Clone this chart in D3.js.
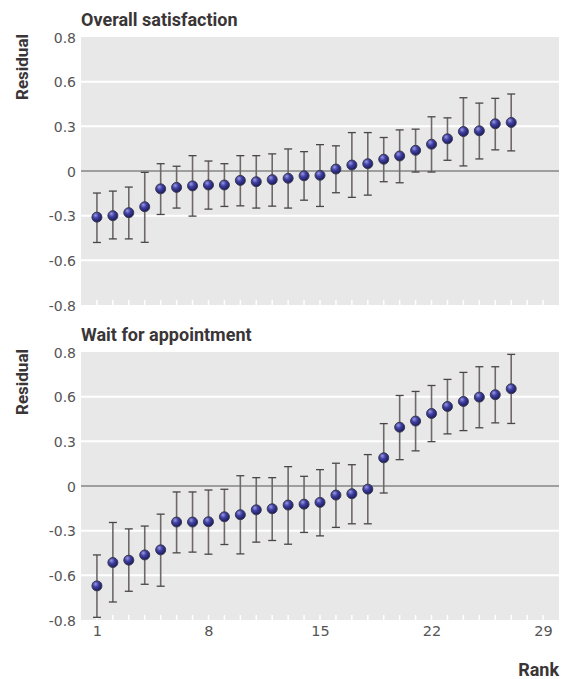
<!DOCTYPE html>
<html>
<head>
<meta charset="utf-8">
<script src="https://cdn.jsdelivr.net/npm/d3@7/dist/d3.min.js"></script>
<style>
  html, body { margin: 0; padding: 0; background: #fff; }
  svg { display: block; }
</style>
</head>
<body>
<svg id="chart" width="571" height="679"></svg>
<script>
// ---- Data ----
const ranks = d3.range(1, 28);
const panelTitles = ["Overall satisfaction", "Wait for appointment"];

const satEst = [-0.31,-0.30,-0.28,-0.24,-0.12,-0.11,-0.10,-0.094,-0.094,-0.063,-0.072,-0.058,-0.049,-0.032,-0.029,0.013,0.040,0.049,0.079,0.101,0.139,0.180,0.216,0.265,0.270,0.317,0.326];
const satLow = [-0.48,-0.456,-0.456,-0.479,-0.292,-0.249,-0.303,-0.256,-0.238,-0.234,-0.249,-0.236,-0.249,-0.196,-0.238,-0.146,-0.177,-0.162,-0.072,-0.079,-0.007,-0.007,0.072,0.034,0.081,0.142,0.135];
const satHigh = [-0.148,-0.135,-0.108,-0.009,0.049,0.032,0.103,0.067,0.049,0.103,0.103,0.115,0.148,0.13,0.177,0.169,0.258,0.258,0.225,0.276,0.281,0.364,0.357,0.492,0.456,0.488,0.517];

const waitEst = [-0.671,-0.514,-0.498,-0.463,-0.429,-0.242,-0.242,-0.240,-0.207,-0.193,-0.160,-0.153,-0.128,-0.122,-0.110,-0.061,-0.052,-0.021,0.189,0.395,0.436,0.487,0.534,0.568,0.597,0.613,0.653];
const waitLow = [-0.882,-0.779,-0.707,-0.660,-0.673,-0.449,-0.444,-0.458,-0.393,-0.456,-0.377,-0.366,-0.391,-0.312,-0.335,-0.278,-0.254,-0.254,-0.047,0.177,0.236,0.298,0.350,0.372,0.391,0.424,0.420];
const waitHigh = [-0.463,-0.245,-0.288,-0.269,-0.189,-0.040,-0.040,-0.027,-0.022,0.069,0.056,0.056,0.130,0.065,0.110,0.153,0.143,0.211,0.419,0.608,0.635,0.675,0.716,0.763,0.801,0.801,0.884];

const yTickValues = [-0.9, -0.6, -0.3, 0, 0.3, 0.6, 0.9];
const yTickLabels = ["-0.8", "-0.6", "-0.3", "0", "0.3", "0.6", "0.8"];
const xTickValues = [1, 8, 15, 22, 29];
const xMinorTicks = d3.range(1, 30);

const panels = [
  { title: panelTitles[0], est: satEst, low: satLow, high: satHigh, top: 37 },
  { title: panelTitles[1], est: waitEst, low: waitLow, high: waitHigh, top: 352 }
];

// ---- Layout ----
const svg = d3.select("#chart");
const left = 81, right = 559, plotH = 268;
const x = d3.scaleLinear().domain([0, 30]).range([left, right]);

const defs = svg.append("defs");
const grad = defs.append("radialGradient").attr("id", "ball")
  .attr("cx", "40%").attr("cy", "35%").attr("r", "65%").attr("fx", "35%").attr("fy", "30%");
grad.append("stop").attr("offset", "0%").attr("stop-color", "#9a9ae6");
grad.append("stop").attr("offset", "45%").attr("stop-color", "#3f3fa3");
grad.append("stop").attr("offset", "100%").attr("stop-color", "#1a1a5a");

const numFont = "'DejaVu Sans', sans-serif";
const boldFont = "Roboto, 'Liberation Sans', sans-serif";

panels.forEach((p, pi) => {
  const y = d3.scaleLinear().domain([-0.9, 0.9]).range([p.top + plotH, p.top]);
  const g = svg.append("g");

  g.append("rect").attr("x", left).attr("y", p.top)
    .attr("width", right - left).attr("height", plotH).attr("fill", "#e8e8e8");

  // gridlines
  g.selectAll("line.grid").data(yTickValues.filter(v => Math.abs(v) < 0.8 && v !== 0))
    .join("line").attr("class", "grid")
    .attr("x1", left).attr("x2", right)
    .attr("y1", d => y(d)).attr("y2", d => y(d))
    .attr("stroke", "#fff").attr("stroke-width", 2);

  // minor ticks at bottom
  g.selectAll("line.minor").data(xMinorTicks).join("line").attr("class", "minor")
    .attr("x1", d => x(d)).attr("x2", d => x(d))
    .attr("y1", p.top + plotH).attr("y2", p.top + plotH - 5)
    .attr("stroke", "#fff").attr("stroke-width", 1.5);

  // zero line
  g.append("line").attr("x1", left).attr("x2", right)
    .attr("y1", y(0)).attr("y2", y(0))
    .attr("stroke", "#555").attr("stroke-width", 1);

  // y axis labels
  const yAxis = d3.axisLeft(y).tickValues(yTickValues)
    .tickFormat((d, i) => yTickLabels[i]).tickSize(0).tickPadding(5);
  const ya = g.append("g").attr("transform", `translate(${left},0)`).call(yAxis);
  ya.select(".domain").remove();
  ya.selectAll("text").attr("font-family", numFont).attr("font-size", 14)
    .attr("fill", "#555").attr("dy", "0.36em");

  // title
  g.append("text").attr("x", left).attr("y", p.top - 11)
    .attr("font-family", boldFont).attr("font-weight", 700).attr("font-size", 18)
    .attr("fill", "#3a3536").text(p.title);

  // Residual label
  g.append("text").attr("transform", `translate(28,${p.top + 30}) rotate(-90)`)
    .attr("text-anchor", "middle")
    .attr("font-family", boldFont).attr("font-weight", 700).attr("font-size", 17)
    .attr("fill", "#3a3536").text("Residual");

  // error bars
  const eb = g.selectAll("g.eb").data(ranks).join("g").attr("class", "eb");
  eb.append("line")
    .attr("x1", d => x(d)).attr("x2", d => x(d))
    .attr("y1", (d, i) => y(p.low[i])).attr("y2", (d, i) => y(p.high[i]))
    .attr("stroke", "#6e6869").attr("stroke-width", 1.6);
  eb.append("line")
    .attr("x1", d => x(d) - 4).attr("x2", d => x(d) + 4)
    .attr("y1", (d, i) => y(p.low[i])).attr("y2", (d, i) => y(p.low[i]))
    .attr("stroke", "#4a4546").attr("stroke-width", 1.3);
  eb.append("line")
    .attr("x1", d => x(d) - 4).attr("x2", d => x(d) + 4)
    .attr("y1", (d, i) => y(p.high[i])).attr("y2", (d, i) => y(p.high[i]))
    .attr("stroke", "#4a4546").attr("stroke-width", 1.3);

  // points
  g.selectAll("circle.pt").data(ranks).join("circle").attr("class", "pt")
    .attr("cx", d => x(d)).attr("cy", (d, i) => y(p.est[i]))
    .attr("r", 5).attr("fill", "url(#ball)")
    .attr("stroke", "#3b3b4e").attr("stroke-width", 1);

  // x axis on bottom panel
  if (pi === 1) {
    const xAxis = d3.axisBottom(x).tickValues(xTickValues).tickSize(0).tickPadding(6);
    const xa = g.append("g").attr("transform", `translate(0,${p.top + plotH})`).call(xAxis);
    xa.select(".domain").remove();
    xa.selectAll("text").attr("font-family", numFont).attr("font-size", 14.5).attr("fill", "#555");
  }
});

svg.append("text").attr("x", right).attr("y", 676).attr("text-anchor", "end")
  .attr("font-family", boldFont).attr("font-weight", 700).attr("font-size", 18)
  .attr("fill", "#3a3536").text("Rank");
</script>
</body>
</html>
